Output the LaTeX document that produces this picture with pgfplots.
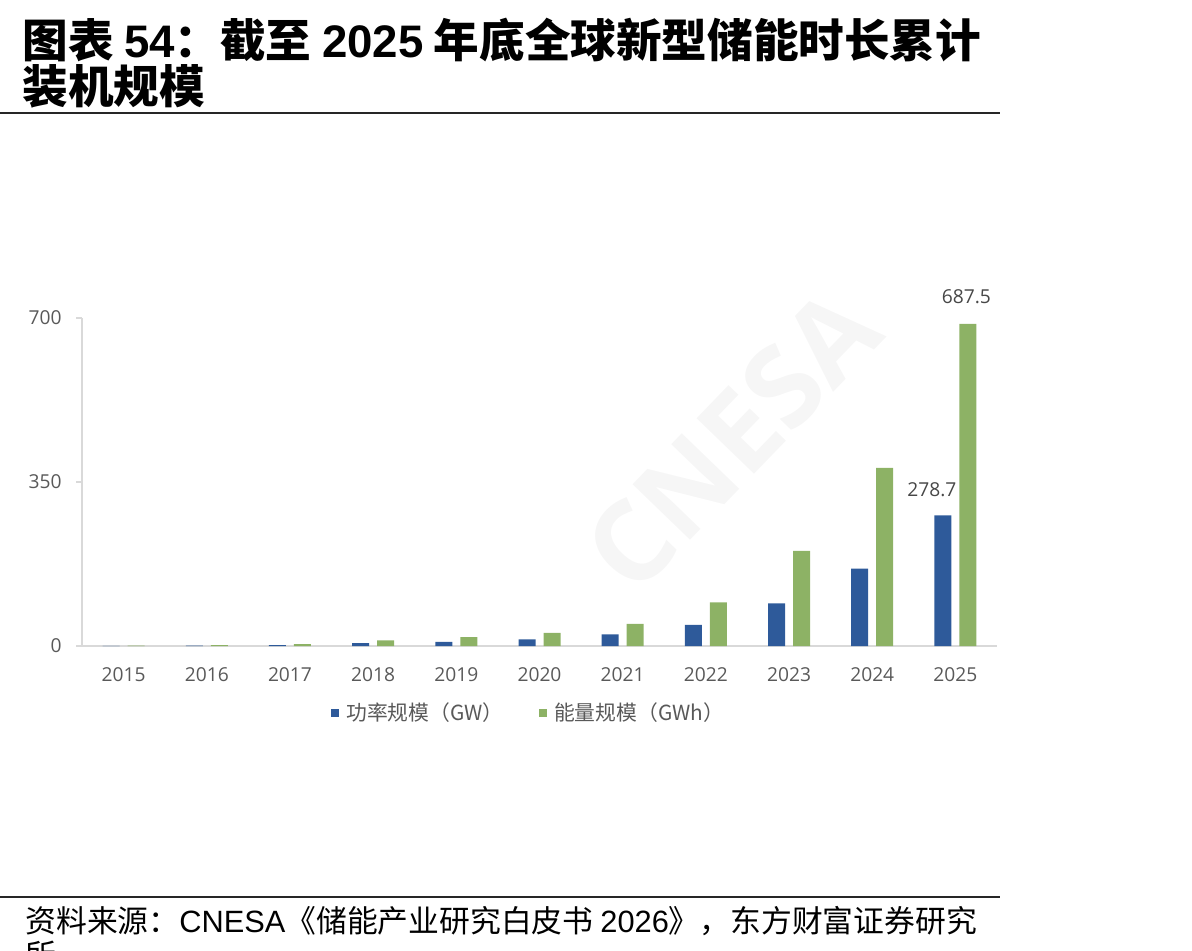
\documentclass[border=0pt]{standalone}
\usepackage{pgfplots}
\pgfplotsset{compat=1.18}
\usepackage{fontspec}
\setmainfont{Open Sans}
\newfontfamily\cjk{Noto Sans CJK SC}
\newfontfamily\arial{Liberation Sans}
\definecolor{barblue}{HTML}{2E5A9A}
\definecolor{bargreen}{HTML}{8DB265}
\definecolor{ticktxt}{HTML}{595959}
\definecolor{axgray}{HTML}{D9D9D9}
\begin{document}
\begin{tikzpicture}
\useasboundingbox (0,0) rectangle (596pt,475pt);
\node[rotate=46, text=black!3.5, font=\fontsize{56pt}{60pt}\selectfont\bfseries] at (366pt,255pt) {CNESA};
\begin{axis}[
  at={(41pt,152pt)}, anchor=south west,
  scale only axis, width=457.5pt, height=164pt,
  xmin=-0.5, xmax=10.5, ymin=0, ymax=700,
  axis lines*=left,
  axis line style={draw=axgray, line width=0.8pt},
  ybar,
  xtick={0,...,10},
  xticklabels={2015,2016,2017,2018,2019,2020,2021,2022,2023,2024,2025},
  ytick={0,350,700},
  x tick style={draw=none},
  y tick style={draw=axgray, line width=0.8pt},
  major tick length=3pt,
  tick align=outside,
  ticklabel style={font=\fontsize{9.6pt}{11pt}\selectfont, text=ticktxt},
  xticklabel style={inner sep=0pt, anchor=north, yshift=-7.5pt},
  yticklabel style={inner sep=0pt, anchor=east, xshift=-7pt},
  /pgf/number format/assume math mode=true,
  legend style={at={(0.4907,-0.204)}, anchor=center, draw=none, fill=none,
    font=\fontsize{10.4pt}{12pt}\selectfont, text=ticktxt,
    nodes={inner xsep=3.5pt},
    /tikz/every even column/.append style={column sep=14pt}},
  legend columns=2,
  clip=false,
]
\addplot[fill=barblue, draw=none, bar width=8.5pt, bar shift=-6.25pt,
  legend image code/.code={\fill[barblue] (0pt,-2.1pt) rectangle (4.2pt,2.1pt);}]
  coordinates {(0,0.5) (1,1) (2,2) (3,6) (4,9) (5,14) (6,25) (7,45) (8,91) (9,165) (10,278.7)};
\addlegendentry{\cjk 功率规模（GW）}
\addplot[fill=bargreen, draw=none, bar width=8.5pt, bar shift=6.25pt,
  legend image code/.code={\fill[bargreen] (0pt,-2.1pt) rectangle (4.2pt,2.1pt);}]
  coordinates {(0,1) (1,2) (2,4) (3,12) (4,19) (5,28) (6,47) (7,93) (8,203) (9,380) (10,687.5)};
\addlegendentry{\cjk 能量规模（GWh）}
\node[anchor=south, inner sep=0pt, xshift=5.5pt, yshift=10pt, text=ticktxt!80!black,
  font=\fontsize{9.6pt}{11pt}\selectfont] at (axis cs:10,687.5) {687.5};
\node[anchor=south, inner sep=0pt, xshift=-11.75pt, yshift=9pt, text=ticktxt!80!black,
  font=\fontsize{9.6pt}{11pt}\selectfont] at (axis cs:10,278.7) {278.7};
\end{axis}
% title
\node[anchor=base west, inner sep=0pt, font=\fontsize{22.8pt}{27pt}\selectfont] at (11pt,446pt)
  {{\cjk\bfseries 图表 }{\arial\bfseries 54}{\cjk\bfseries ：截至 }{\arial\bfseries 2025}{\cjk\bfseries\ 年底全球新型储能时长累计}};
\node[anchor=base west, inner sep=0pt, font=\fontsize{22.8pt}{27pt}\selectfont] at (11pt,423pt)
  {{\cjk\bfseries 装机规模}};
\draw[line width=1pt, black!85] (0,418.5pt) -- (500pt,418.5pt);
\draw[line width=1pt, black!85] (0,26.5pt) -- (500pt,26.5pt);
% source
\node[anchor=base west, inner sep=0pt, font=\fontsize{15.4pt}{18pt}\selectfont] at (12.5pt,9pt)
  {{\cjk 资料来源：}{\arial CNESA}{\cjk 《储能产业研究白皮书 }{\arial 2026}{\cjk 》，东方财富证券研究}};
\node[anchor=base west, inner sep=0pt, font=\fontsize{15.4pt}{18pt}\selectfont] at (12.5pt,-8pt)
  {{\cjk 所}};
\end{tikzpicture}
\end{document}
